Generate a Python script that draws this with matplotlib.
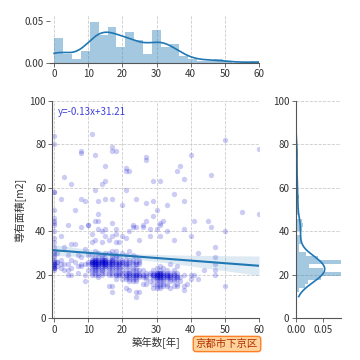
import numpy as np
import matplotlib
matplotlib.use('Agg')
from matplotlib import pyplot as plt

plt.rcParams['font.family'] = ['Noto Sans CJK JP', 'DejaVu Sans']

# 築年数ごとの専有面積
years = [0, 1, 2, 3, 4, 5, 6, 7, 8, 9, 10, 11, 12, 13, 14, 15, 16, 17, 18, 19, 20,
         21, 22, 23, 24, 25, 26, 27, 28, 29, 30, 31, 32, 33, 34, 35, 36, 37, 38, 39,
         40, 41, 42, 44, 45, 46, 47, 50, 55, 60]
areas = [
    [84, 80, 58, 58, 50, 46, 45, 44, 43, 40, 37, 35, 33, 31, 30, 29, 28, 27, 26, 26, 25, 25, 25, 24, 24, 23, 23, 23, 22],
    [26, 26, 30, 24],
    [55, 38, 27, 25, 23],
    [65, 33, 25, 22],
    [43, 29, 22, 20, 25],
    [62, 34, 27, 23, 20],
    [50, 34, 26],
    [29, 24, 21],
    [77, 76, 55, 42, 28, 25, 24],
    [54, 32, 25, 20, 17],
    [43, 43, 29, 26, 25, 22],
    [85, 39, 35, 29, 27, 26, 26, 26, 25, 25, 25, 24, 23, 22, 21, 27, 26, 20],
    [75, 59, 45, 36, 31, 28, 27, 27, 26, 26, 26, 25, 25, 25, 24, 24, 23, 22, 21, 20, 27, 26, 25, 22],
    [54, 48, 45, 41, 30, 28, 27, 26, 26, 26, 25, 25, 25, 24, 23, 22, 21, 20, 19, 27, 24],
    [62, 40, 35, 29, 27, 27, 26, 26, 25, 25, 25, 24, 23, 22, 21, 26, 27, 22, 28, 26, 20],
    [70, 63, 55, 41, 38, 30, 28, 27, 27, 26, 26, 25, 25, 25, 24, 23, 21, 26, 26, 24, 27, 25],
    [36, 30, 27, 26, 26, 25, 25, 24, 23, 22, 21, 20, 15],
    [79, 77, 55, 44, 38, 31, 29, 28, 27, 27, 26, 26, 25, 25, 25, 24, 23, 22, 21, 20, 15, 12, 27],
    [77, 41, 39, 35, 31, 29, 28, 27, 26, 26, 25, 25, 24, 23, 22, 21, 20, 20, 18],
    [35, 28, 26, 26, 25, 25, 24, 23, 22, 21, 20, 20],
    [52, 38, 30, 27, 26, 26, 25, 24, 22, 21, 20, 18],
    [69, 68, 59, 37, 29, 27, 26, 25, 25, 24, 22, 21, 20, 20, 19, 18, 14],
    [68, 40, 31, 27, 26, 25, 24, 22, 21, 21, 20, 20, 19, 18, 17, 13],
    [43, 42, 29, 27, 26, 25, 23, 22, 21, 20, 20, 19, 18, 17],
    [55, 42, 28, 26, 25, 25, 23, 22, 21, 20, 20, 20, 19, 18, 17, 12, 10],
    [36, 27, 26, 25, 22, 21, 20, 20, 19, 12],
    [43, 42, 22, 20, 20, 19, 16],
    [74, 73, 53, 45, 21, 20, 19, 18, 16],
    [41, 38, 21, 20, 17],
    [63, 54, 47, 22, 21, 20, 20, 20, 19, 18, 16, 14],
    [50, 41, 23, 21, 21, 21, 20, 20, 20, 20, 19, 19, 19, 18, 17, 16, 15, 14],
    [63, 44, 43, 38, 24, 22, 21, 21, 21, 20, 20, 20, 19, 19, 19, 18, 17, 16, 15, 14],
    [45, 23, 21, 21, 20, 20, 19, 19, 18, 17, 16, 15],
    [52, 40, 22, 21, 20, 20, 20, 19, 19, 18, 16, 15],
    [25, 21, 20, 20, 19, 19, 18, 17, 14],
    [57, 36, 22, 21, 20, 20, 19, 18, 17, 15],
    [68, 24, 21, 20, 19, 19, 18, 16, 15],
    [70, 19, 17],
    [64, 54, 41, 20, 15, 13],
    [16],
    [75, 38, 20, 18],
    [45, 20],
    [30, 18],
    [22],
    [45],
    [66, 42],
    [33, 28, 25, 22, 20],
    [82, 40, 15],
    [49],
    [78, 48],
]
area_name = '京都市下京区'
eq_text = 'y=-0.13x+31.21'

x = np.repeat(years, [len(a) for a in areas]).astype(float)
y = np.concatenate([np.array(a, dtype=float) for a in areas])

BLUE = '#1f77b4'


def kde(data, grid):
    # scott bandwidth gaussian kde
    bw = data.std(ddof=1) * len(data) ** (-1 / 5)
    z = (grid[:, None] - data[None, :]) / bw
    return np.exp(-0.5 * z ** 2).sum(axis=1) / (len(data) * bw * np.sqrt(2 * np.pi))


def style(ax, xgrid=True, ygrid=True, left=True):
    for s in ['top', 'right']:
        ax.spines[s].set_visible(False)
    ax.spines['left'].set_visible(left)
    for s in ['left', 'bottom']:
        ax.spines[s].set_color('#555555')
        ax.spines[s].set_linewidth(0.8)
    ax.tick_params(labelsize=7, length=3, width=0.6, color='#555555', labelcolor='#333333', pad=1.5)
    if xgrid:
        ax.xaxis.grid(True, ls='--', color='#cccccc', lw=0.6)
    if ygrid:
        ax.yaxis.grid(True, ls='--', color='#cccccc', lw=0.6)
    ax.set_axisbelow(True)


fig = plt.figure(figsize=(3.6, 3.6), dpi=100)
W = 360.0
ax = fig.add_axes([52.3 / W, 1 - 318.3 / W, 206.7 / W, 217.3 / W])
ax_top = fig.add_axes([50 / W, 1 - 62.7 / W, 209 / W, 47.7 / W])
ax_r = fig.add_axes([295.7 / W, 1 - 318.3 / W, 45.3 / W, 217.3 / W])

# 散布図 + 回帰直線
ax.scatter(x, y, s=15, color='mediumblue', alpha=0.2, linewidths=0)
a, b = np.polyfit(x, y, 1)
xs = np.linspace(x.min(), x.max(), 100)
n = len(x)
resid = y - (a * x + b)
s = np.sqrt((resid ** 2).sum() / (n - 2))
se = s * np.sqrt(1 / n + (xs - x.mean()) ** 2 / ((x - x.mean()) ** 2).sum())
ax.fill_between(xs, a * xs + b - 1.96 * se, a * xs + b + 1.96 * se, color=BLUE, alpha=0.15, lw=0)
ax.plot(xs, a * xs + b, color=BLUE, lw=1.5)
ax.text(1.2, 95, eq_text, fontsize=7, color='mediumblue', alpha=0.75, va='center')
ax.set_xlim(-0.5, 60)
ax.set_ylim(0, 100)
ax.set_xticks(range(0, 61, 10))
ax.set_yticks(range(0, 101, 20))
style(ax)
ax.set_xlabel('築年数[年]', fontsize=7.5, color='#333333', labelpad=2)
ax.set_ylabel('専有面積[m2]', fontsize=7.5, color='#333333', labelpad=3)

# 上：築年数の分布
bins_x = np.linspace(0, 60, 24)
ax_top.hist(x, bins=bins_x, density=True, color=BLUE, alpha=0.4, lw=0)
gx = np.linspace(0, 60, 300)
ax_top.plot(gx, kde(x, gx), color=BLUE, lw=1.2)
ax_top.set_xlim(-1.2, 60)
ax_top.set_ylim(0, 0.057)
ax_top.set_xticks(range(0, 61, 10))
ax_top.set_yticks([0, 0.05])
ax_top.set_yticklabels(['0.00', '0.05'])
style(ax_top, ygrid=False, left=False)

# 右：専有面積の分布
bins_y = np.linspace(y.min(), y.max(), 41)
ax_r.hist(y, bins=bins_y, density=True, orientation='horizontal', color=BLUE, alpha=0.4, lw=0)
gy = np.linspace(y.min(), y.max(), 300)
ax_r.plot(kde(y, gy), gy, color=BLUE, lw=1.2)
ax_r.set_ylim(0, 100)
ax_r.set_xlim(0, 0.082)
ax_r.set_yticks(range(0, 101, 20))
ax_r.set_xticks([0, 0.05])
ax_r.set_xticklabels(['0.00', '0.05'])
style(ax_r, xgrid=False)

fig.text(227 / W, 1 - 344 / W, area_name, fontsize=7.5, color='#b03000', ha='center', va='center',
         bbox=dict(boxstyle='round,pad=0.25', fc='#ffd39b', ec='#ff7f27', lw=1))

plt.savefig('out.png', dpi=100)
